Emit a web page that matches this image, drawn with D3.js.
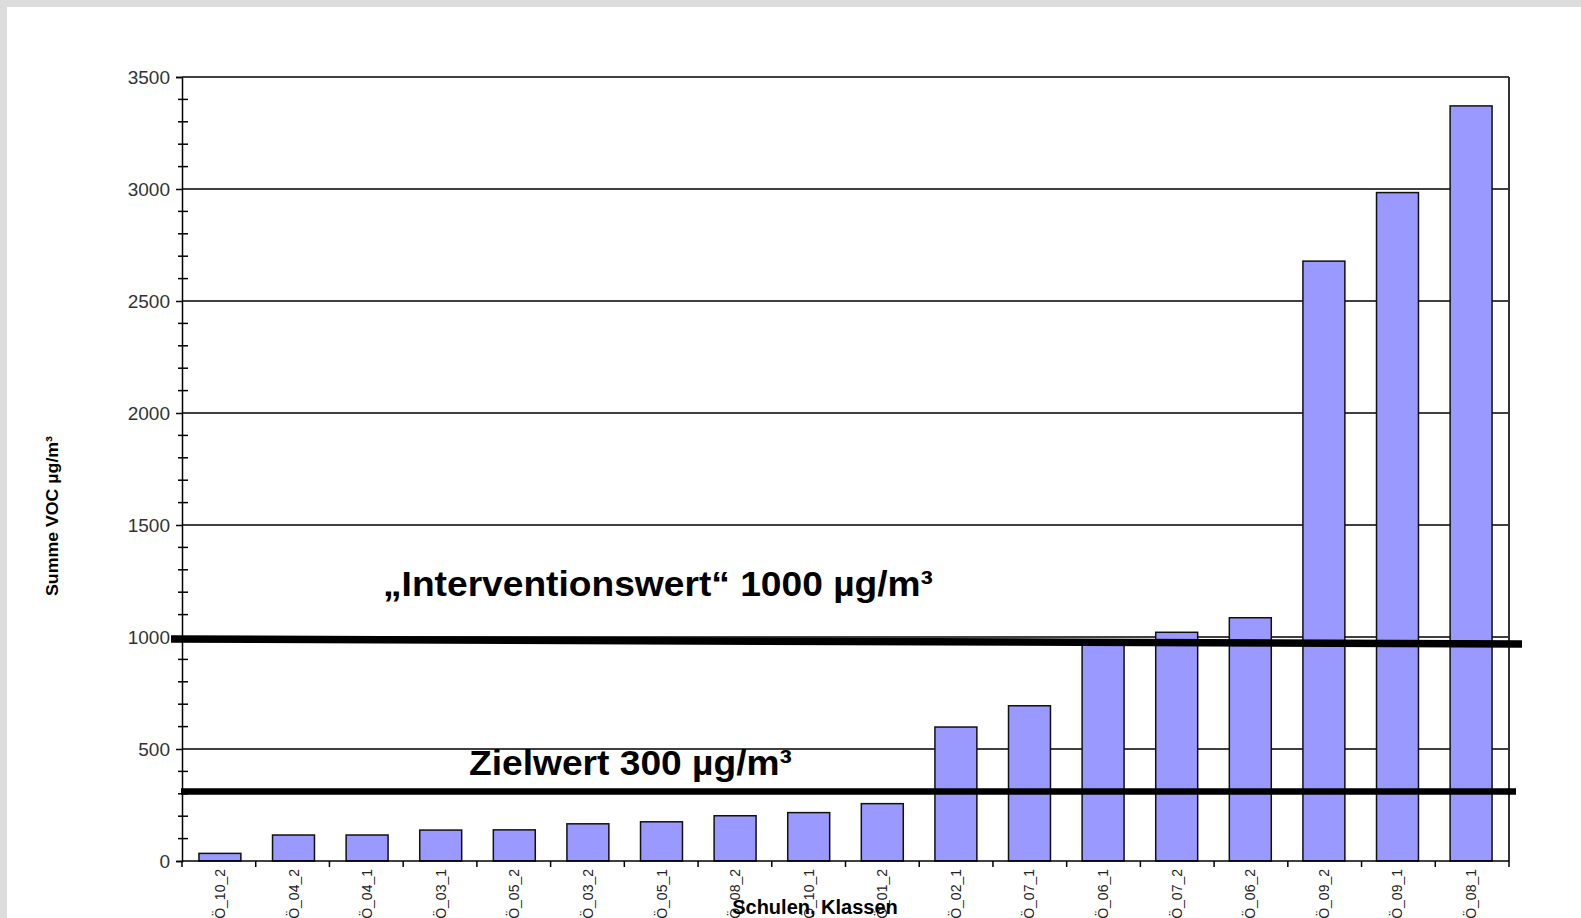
<!DOCTYPE html>
<html>
<head>
<meta charset="utf-8">
<script src="https://cdn.jsdelivr.net/npm/d3@7/dist/d3.min.js"></script>
<style>
  html, body { margin: 0; padding: 0; background: #dcdcdc; overflow: hidden; }
  svg { display: block; }
</style>
</head>
<body>
<div id="chart"></div>
<script>
const categories = ["OÖ_10_2", "OÖ_04_2", "OÖ_04_1", "OÖ_03_1", "OÖ_05_2", "OÖ_03_2", "OÖ_05_1", "OÖ_08_2", "OÖ_10_1",
  "OÖ_01_2", "OÖ_02_1", "OÖ_07_1", "OÖ_06_1", "OÖ_07_2", "OÖ_06_2", "OÖ_09_2", "OÖ_09_1", "OÖ_08_1"];
const vocValues = [34, 116, 116, 138, 139, 166, 175, 202, 216, 256, 598, 693, 978, 1021, 1086, 2678, 2984, 3371];
const yTicks = [0, 500, 1000, 1500, 2000, 2500, 3000, 3500];
// hand drawn reference lines: value at left end, value at right end
const interventionLine = [991, 969];
const zielLine = [310, 310];

const W = 1581, H = 918;
const margin = { top: 77, right: 72, bottom: 57, left: 182 };
const width = W - margin.left - margin.right;
const height = H - margin.top - margin.bottom;
const font = "Liberation Sans, Arial, sans-serif";

const svg = d3.select("#chart").append("svg").attr("width", W).attr("height", H);
svg.append("rect").attr("x", 7).attr("y", 7).attr("width", W - 7).attr("height", H - 7).attr("fill", "#fff");

const g = svg.append("g").attr("transform", `translate(${margin.left},${margin.top})`);

const x = d3.scaleBand().domain(categories).range([0, width]).paddingInner(0.43).paddingOuter(0.23);
const y = d3.scaleLinear().domain([0, 3500]).range([height, 0]);

// gridlines
g.selectAll(".grid").data(yTicks.filter(d => d > 0)).enter().append("line")
  .attr("x1", 0).attr("x2", width).attr("y1", d => y(d)).attr("y2", d => y(d))
  .attr("stroke", "#000").attr("stroke-width", 1.5);
g.append("line").attr("x1", width).attr("x2", width).attr("y1", 0).attr("y2", height)
  .attr("stroke", "#333").attr("stroke-width", 2);

// bars
g.selectAll(".bar").data(vocValues).enter().append("rect")
  .attr("x", (d, i) => x(categories[i]))
  .attr("width", x.bandwidth())
  .attr("y", d => y(d))
  .attr("height", d => height - y(d))
  .attr("fill", "#9999ff").attr("stroke", "#111").attr("stroke-width", 1.5);

// y axis
const yMinor = d3.range(0, 3501, 100);
g.selectAll(".minor").data(yMinor.filter(d => d % 500 !== 0)).enter().append("line")
  .attr("x1", -4).attr("x2", 6).attr("y1", d => y(d)).attr("y2", d => y(d))
  .attr("stroke", "#000").attr("stroke-width", 1.5);
g.append("g")
  .call(d3.axisLeft(y).tickValues(yTicks).tickFormat(d3.format("d")).tickSize(6).tickPadding(6))
  .call(a => a.select(".domain").attr("stroke", "#000").attr("stroke-width", 1.5))
  .call(a => a.selectAll(".tick line").attr("stroke", "#000").attr("stroke-width", 1.5))
  .call(a => a.selectAll("text").attr("fill", "#333").attr("font-size", 19).attr("font-family", font));

// x axis with ticks at band boundaries
g.append("line").attr("x1", 0).attr("x2", width).attr("y1", height).attr("y2", height)
  .attr("stroke", "#000").attr("stroke-width", 1.5);
g.selectAll(".xtick").data(d3.range(categories.length + 1)).enter().append("line")
  .attr("x1", i => i * width / categories.length).attr("x2", i => i * width / categories.length)
  .attr("y1", height).attr("y2", height + 6).attr("stroke", "#000").attr("stroke-width", 1.5);
g.selectAll(".xlab").data(categories).enter().append("text")
  .attr("transform", d => `translate(${x(d) + x.bandwidth() / 2 + 5},${height + 8}) rotate(-90)`)
  .attr("text-anchor", "end")
  .attr("font-size", 14).attr("fill", "#222").attr("font-family", font)
  .text(d => d);

// axis titles
svg.append("text")
  .attr("transform", `translate(58,516) rotate(-90)`)
  .attr("text-anchor", "middle").attr("font-size", 17).attr("font-weight", "bold").attr("font-family", font)
  .attr("textLength", 160).attr("lengthAdjust", "spacingAndGlyphs")
  .text("Summe VOC µg/m³");
svg.append("text")
  .attr("x", 815).attr("y", 914)
  .attr("text-anchor", "middle").attr("font-size", 20).attr("font-weight", "bold").attr("font-family", font)
  .text("Schulen, Klassen");

// threshold lines
g.append("line")
  .attr("x1", -11).attr("x2", width + 13)
  .attr("y1", y(interventionLine[0])).attr("y2", y(interventionLine[1]))
  .attr("stroke", "#000").attr("stroke-width", 7.5);
g.append("line")
  .attr("x1", -1).attr("x2", width + 7)
  .attr("y1", y(zielLine[0])).attr("y2", y(zielLine[1]))
  .attr("stroke", "#000").attr("stroke-width", 6.5);

g.append("text")
  .attr("x", 383 - margin.left).attr("y", y(interventionLine[0]) - 43)
  .attr("font-size", 35).attr("font-weight", "bold").attr("font-family", font)
  .attr("textLength", 550).attr("lengthAdjust", "spacingAndGlyphs")
  .text("„Interventionswert“ 1000 µg/m³");
g.append("text")
  .attr("x", 469 - margin.left).attr("y", y(zielLine[0]) - 17)
  .attr("font-size", 35).attr("font-weight", "bold").attr("font-family", font)
  .attr("textLength", 323).attr("lengthAdjust", "spacingAndGlyphs")
  .text("Zielwert 300 µg/m³");
</script>
</body>
</html>
